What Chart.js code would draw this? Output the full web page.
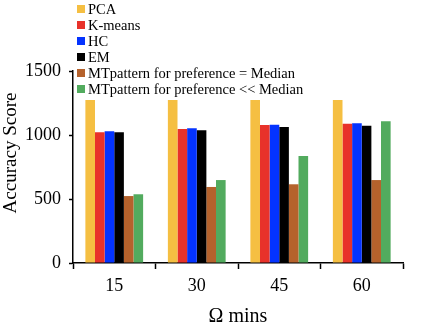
<!DOCTYPE html>
<html>
<head>
<meta charset="utf-8">
<script src="https://cdn.jsdelivr.net/npm/chart.js@4"></script>
<style>
  html, body { margin: 0; padding: 0; background: #fff; }
  #wrap { position: relative; width: 423px; height: 333px; }
  #legend { position: absolute; left: 77px; top: 1px; font-family: 'Liberation Serif', serif; font-size: 14.5px; color: #000; line-height: 16px; }
  #legend div { display: flex; align-items: center; white-space: nowrap; }
  #legend span.sw { display: inline-block; width: 8px; height: 8px; margin-right: 3px; }
</style>
</head>
<body>
<div id="wrap">
  <canvas id="chart" width="423" height="333"></canvas>
  <div id="legend"></div>
</div>
<script>
const categories = ["15", "30", "45", "60"];
const seriesNames = ["PCA", "K-means", "HC", "EM", "MTpattern for preference = Median", "MTpattern for preference << Median"];
const seriesColors = ["#F5BF42", "#E8322A", "#0433FF", "#000000", "#B5622C", "#52AB5E"];

const pca = [1273, 1273, 1273, 1273];
const kmeans = [1022, 1047, 1078, 1088];
const hc = [1030, 1052, 1081, 1091];
const em = [1022, 1037, 1062, 1073];
const mtMedian = [523, 594, 615, 648];
const mtBelow = [537, 648, 836, 1107];

const yTicks = [0, 500, 1000, 1500];
const yTitle = "Accuracy Score";

const FONT = "'Liberation Serif', 'Times New Roman', serif";
const seriesData = [pca, kmeans, hc, em, mtMedian, mtBelow];

document.getElementById("legend").innerHTML = seriesNames.map((n, i) =>
  `<div><span class="sw" style="background:${seriesColors[i]}"></span>${n}</div>`
).join("");

// y title sits a bit above the plot's middle in the original, so draw it by hand
const yTitlePlugin = {
  id: "yTitle",
  afterDraw(chart) {
    const ctx = chart.ctx;
    ctx.save();
    ctx.translate(11, 153);
    ctx.rotate(-Math.PI / 2);
    ctx.font = "19px " + FONT;
    ctx.fillStyle = "#000";
    ctx.textAlign = "center";
    ctx.textBaseline = "middle";
    ctx.fillText(yTitle, 0, 0);
    ctx.restore();
  }
};

new Chart(document.getElementById("chart"), {
  type: "bar",
  data: {
    labels: categories,
    datasets: seriesNames.map((n, i) => ({
      label: n,
      data: seriesData[i],
      backgroundColor: seriesColors[i],
      barPercentage: 1,
      categoryPercentage: 0.7,
    }))
  },
  plugins: [yTitlePlugin],
  options: {
    responsive: false,
    animation: false,
    layout: { padding: { top: 71, right: 20, left: 0, bottom: 0 } },
    plugins: { legend: { display: false }, tooltip: { enabled: false } },
    scales: {
      x: {
        offset: true,
        grid: { offset: true, drawOnChartArea: false, tickLength: 6, color: "#000", tickWidth: 1.5 },
        border: { color: "#000", width: 1.5 },
        ticks: { color: "#000", font: { family: FONT, size: 18 }, padding: 6 },
        title: { display: true, text: "Ω mins", color: "#000", font: { family: FONT, size: 20 }, padding: { top: 2 } },
        afterFit: s => { s.height = 70; }
      },
      y: {
        min: 0,
        max: 1500,
        afterBuildTicks: s => { s.ticks = yTicks.map(v => ({ value: v })); },
        grid: { drawOnChartArea: false, tickLength: 4, color: "#000", tickWidth: 1.5 },
        border: { color: "#000", width: 1.5 },
        ticks: { color: "#000", font: { family: FONT, size: 18 }, padding: 8, callback: v => String(v) },
        afterFit: s => { s.width = 73; }
      }
    }
  }
});
</script>
</body>
</html>
